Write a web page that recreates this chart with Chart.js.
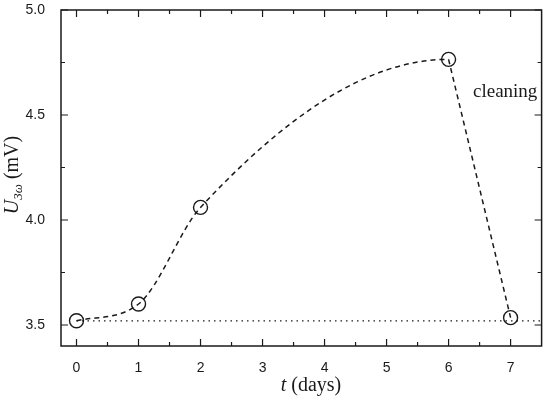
<!DOCTYPE html>
<html>
<head>
<meta charset="utf-8">
<script src="https://cdn.jsdelivr.net/npm/chart.js@4.4.1/dist/chart.umd.min.js"></script>
<style>
  html, body { margin: 0; padding: 0; background: #fff; }
  #wrap { width: 550px; height: 399px; }
</style>
</head>
<body>
<div id="wrap"><canvas id="chart"></canvas></div>
<script>
// measured values
const days = [0, 1, 2, 6, 7];
const voltage = [3.52, 3.60, 4.06, 4.765, 3.535];
// baseline = initial value
const baselineX = [0, 7.5];
const xTicks = [0, 1, 2, 3, 4, 5, 6, 7];
const yTicks = [3.5, 4.0, 4.5, 5.0];
const xMinor = [0.5, 1.5, 2.5, 3.5, 4.5, 5.5, 6.5];
const yMinor = [3.75, 4.25, 4.75];

const ink = '#1a1a1a';
const pts = days.map((d, i) => ({ x: d, y: voltage[i] }));
const lastIdx = pts.length - 1;

// draws the box, inward ticks and the titles
const framePlugin = {
  id: 'frame',
  afterDraw(chart) {
    const { ctx, chartArea: a, scales: { x, y } } = chart;
    ctx.save();
    ctx.strokeStyle = ink;
    ctx.lineWidth = 1.5;
    ctx.strokeRect(a.left, a.top, a.right - a.left, a.bottom - a.top);

    ctx.lineWidth = 1.2;
    ctx.beginPath();
    xTicks.forEach(v => {
      const px = x.getPixelForValue(v);
      ctx.moveTo(px, a.bottom); ctx.lineTo(px, a.bottom - 7);
      ctx.moveTo(px, a.top); ctx.lineTo(px, a.top + 7);
    });
    xMinor.forEach(v => {
      const px = x.getPixelForValue(v);
      ctx.moveTo(px, a.bottom); ctx.lineTo(px, a.bottom - 4);
      ctx.moveTo(px, a.top); ctx.lineTo(px, a.top + 4);
    });
    yTicks.forEach(v => {
      const py = y.getPixelForValue(v);
      ctx.moveTo(a.left, py); ctx.lineTo(a.left + 7, py);
      ctx.moveTo(a.right, py); ctx.lineTo(a.right - 7, py);
    });
    yMinor.forEach(v => {
      const py = y.getPixelForValue(v);
      ctx.moveTo(a.left, py); ctx.lineTo(a.left + 4, py);
      ctx.moveTo(a.right, py); ctx.lineTo(a.right - 4, py);
    });
    ctx.stroke();

    ctx.fillStyle = ink;
    ctx.textBaseline = 'alphabetic';
    const serif = '"Liberation Serif", "Times New Roman", serif';

    // x title: t (days)
    ctx.font = 'italic 20px ' + serif;
    const tW = ctx.measureText('t').width;
    ctx.font = '20px ' + serif;
    const restW = ctx.measureText(' (days)').width;
    const sx = 311 - (tW + restW) / 2;
    ctx.font = 'italic 20px ' + serif;
    ctx.fillText('t', sx, 391);
    ctx.font = '20px ' + serif;
    ctx.fillText(' (days)', sx + tW, 391);

    // y title: U_3ω (mV)
    ctx.save();
    ctx.translate(18, 175);
    ctx.rotate(-Math.PI / 2);
    ctx.font = 'italic 20px ' + serif;
    const uW = ctx.measureText('U').width;
    ctx.font = 'italic 13px ' + serif;
    const sW = ctx.measureText('3ω').width;
    ctx.font = '20px ' + serif;
    const mW = ctx.measureText(' (mV)').width;
    let p = -(uW + sW + mW) / 2;
    ctx.font = 'italic 20px ' + serif;
    ctx.fillText('U', p, 0);
    p += uW;
    ctx.font = 'italic 13px ' + serif;
    ctx.fillText('3ω', p, 4);
    p += sW;
    ctx.font = '20px ' + serif;
    ctx.fillText(' (mV)', p, 0);
    ctx.restore();

    // annotation
    ctx.font = '19px ' + serif;
    ctx.fillText('cleaning', 473, 97);
    ctx.restore();
  }
};

new Chart(document.getElementById('chart'), {
  type: 'scatter',
  data: {
    datasets: [
      {
        // smooth guide through the growth phase (last segment hidden)
        data: pts,
        showLine: true,
        borderColor: ink,
        borderWidth: 1.5,
        borderDash: [5, 4],
        cubicInterpolationMode: 'monotone',
        pointRadius: 0,
        segment: {
          borderColor: c => c.p1DataIndex === lastIdx ? 'rgba(0,0,0,0)' : ink
        }
      },
      {
        // drop after cleaning
        data: pts.slice(3),
        showLine: true,
        borderColor: ink,
        borderWidth: 1.5,
        borderDash: [5, 4],
        pointRadius: 0
      },
      {
        data: baselineX.map(v => ({ x: v, y: voltage[0] })),
        showLine: true,
        borderColor: ink,
        borderWidth: 1.3,
        borderDash: [1.5, 4],
        pointRadius: 0
      },
      {
        data: pts,
        showLine: false,
        pointRadius: 7,
        pointBorderWidth: 1.4,
        pointBorderColor: ink,
        pointBackgroundColor: 'rgba(0,0,0,0)'
      }
    ]
  },
  options: {
    responsive: true,
    maintainAspectRatio: false,
    animation: false,
    layout: { padding: { top: 10, right: 5, left: 0, bottom: 0 } },
    plugins: { legend: { display: false }, tooltip: { enabled: false } },
    scales: {
      x: {
        type: 'linear',
        min: -0.25,
        max: 7.5,
        grid: { display: false },
        border: { display: false },
        afterBuildTicks: s => { s.ticks = xTicks.map(v => ({ value: v })); },
        afterFit: s => { s.height = 53; s.paddingLeft = 0; s.paddingRight = 0; },
        ticks: {
          padding: 6,
          color: ink,
          font: { family: 'Arial, "Liberation Sans", sans-serif', size: 14 },
          callback: v => String(v)
        }
      },
      y: {
        min: 3.4,
        max: 5.0,
        grid: { display: false },
        border: { display: false },
        afterBuildTicks: s => { s.ticks = yTicks.map(v => ({ value: v })); },
        afterFit: s => { s.width = 61; s.paddingTop = 0; s.paddingBottom = 0; },
        ticks: {
          padding: 8,
          color: ink,
          font: { family: 'Arial, "Liberation Sans", sans-serif', size: 14 },
          callback: v => v.toFixed(1)
        }
      }
    }
  },
  plugins: [framePlugin]
});
</script>
</body>
</html>
